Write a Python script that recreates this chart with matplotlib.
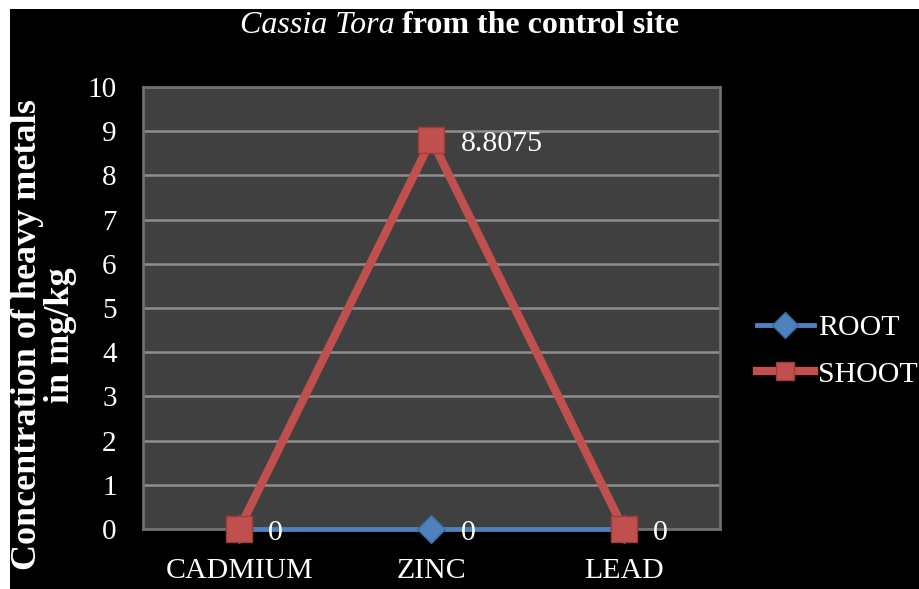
import matplotlib
matplotlib.use("Agg")
import matplotlib.pyplot as plt
from matplotlib.patches import Rectangle

# data
metals = ["CADMIUM", "ZINC", "LEAD"]
root = [0, 0, 0]
shoot = [0, 8.8075, 0]
y_ticks = list(range(0, 11))

serif = "Liberation Serif"
blue = "#4F81BD"
red = "#C0504D"

fig = plt.figure(figsize=(9.2, 5.89), dpi=100, facecolor="black")

# white strip along the top and left edge of the original screenshot
fig.patches.append(Rectangle((0, 1 - 9 / 589), 1, 9 / 589, transform=fig.transFigure,
                             facecolor="white", edgecolor="none", zorder=10))
fig.patches.append(Rectangle((0, 0), 10 / 920, 1, transform=fig.transFigure,
                             facecolor="white", edgecolor="none", zorder=10))

ax = fig.add_axes([143 / 920, 1 - 529 / 589, 577 / 920, 442 / 589])
ax.set_facecolor("#404040")
for s in ax.spines.values():
    s.set_color("#6E6E6E")
    s.set_linewidth(2)

x = list(range(len(metals)))
ax.plot(x, root, color=blue, lw=3.5, marker="D", ms=14,
        mfc=blue, mec="#3A6A9E", mew=1, label="ROOT", zorder=3, clip_on=False)
ax.plot(x, shoot, color=red, lw=6, marker="s", ms=19,
        mfc=red, mec="#A23B38", mew=1, label="SHOOT", zorder=4, clip_on=False)

ax.set_xlim(-0.5, len(metals) - 0.5)
ax.set_ylim(0, 10)
ax.set_yticks(y_ticks)
ax.set_xticks(x)
ax.set_xticklabels(metals)
ax.grid(axis="y", color="#8E8E8E", lw=1.8)
ax.set_axisbelow(True)
ax.tick_params(length=0, colors="white")
for lbl in ax.get_yticklabels():
    lbl.set_fontfamily(serif)
    lbl.set_fontsize(21)
for lbl in ax.get_xticklabels():
    lbl.set_fontfamily(serif)
    lbl.set_fontsize(21.5)
ax.tick_params(axis="y", pad=19)
ax.tick_params(axis="x", pad=21)

# data labels
for i, (r, s) in enumerate(zip(root, shoot)):
    ax.annotate(f"{s:g}", (i, s), xytext=(21, -3), textcoords="offset points",
                color="white", fontsize=21.5, family=serif, va="center", ha="left")
    if r != s:
        ax.annotate(f"{r:g}", (i, r), xytext=(21, -3), textcoords="offset points",
                    color="white", fontsize=21.5, family=serif, va="center", ha="left")

# y axis title, two lines
fig.text(44 / 920, 1 - 335 / 589, "Concentration of heavy metals\nin mg/kg",
         color="white", fontsize=26, family=serif, fontweight="bold",
         rotation=90, ha="center", va="center", multialignment="center",
         linespacing=1.0)

# title: italic species name followed by bold text
fig.text(395 / 920, 1 - 33 / 589, "Cassia Tora", color="white", fontsize=23,
         family=serif, style="italic", ha="right", va="baseline")
fig.text(402 / 920, 1 - 33 / 589, "from the control site", color="white", fontsize=23,
         family=serif, fontweight="bold", ha="left", va="baseline")

leg = fig.legend(loc="center left", bbox_to_anchor=(757 / 920, 1 - 351 / 589),
                 frameon=False, prop={"family": serif, "size": 21.5},
                 handlelength=1.9, handletextpad=0.15, labelspacing=0.65,
                 borderaxespad=0, borderpad=0)
for t in leg.get_texts():
    t.set_color("white")
for h in leg.legend_handles:
    h.set_markersize(13)

fig.savefig("out.png", dpi=100, facecolor="black")
